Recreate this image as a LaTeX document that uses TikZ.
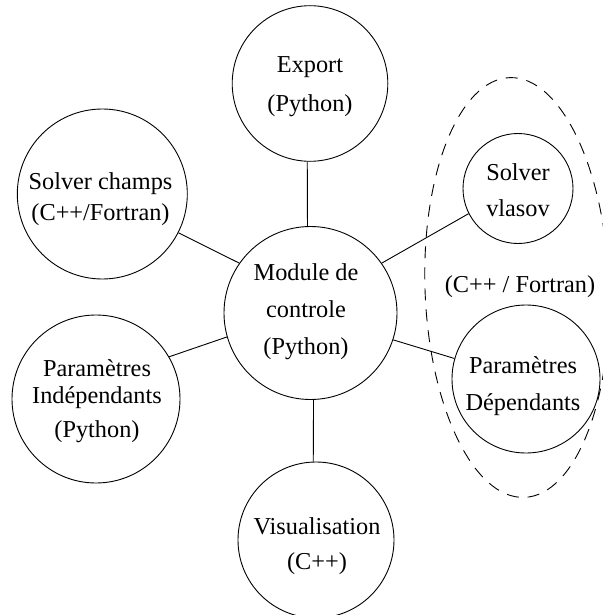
\documentclass[tikz,border=0pt]{standalone}
\usepackage{fontspec}
\setmainfont{Liberation Serif}
\begin{document}
\begin{tikzpicture}[x=1pt,y=-1pt,
  bubble/.style={draw, circle, inner sep=0pt, line width=0.9pt},
  txt/.style={align=center, inner sep=0pt, font=\fontsize{24.3}{29.2}\selectfont},
  link/.style={line width=0.9pt},
  group/.style={dashed, dash pattern=on 12pt off 9pt, line width=0.9pt}]
\useasboundingbox (0,0) rectangle (602,615);

% circles
\node[bubble, minimum size=155.6pt] (exp)    at (310,83.5) {};
\node[bubble, minimum size=170pt]   (champs) at (102.3,194) {};
\node[bubble, minimum size=173pt]   (mod)    at (310.5,313) {};
\node[bubble, minimum size=168pt]   (indep)  at (96,399) {};
\node[bubble, minimum size=110pt]   (vlasov) at (518,188.5) {};
\node[bubble, minimum size=148pt]   (dep)    at (526,379) {};
\node[bubble, minimum size=156pt]   (vis)    at (316,540) {};

% texts
\node[txt] (expT)    at (310,86.5)  {Export\\[10pt](Python)};
\node[txt] (champsT) at (100.5,199) {Solver champs\\[2pt](C++/Fortran)};
\node[txt] (modT)    at (306,311.5) {Module de\\[8pt]controle\\[8pt](Python)};
\node[txt] (indepT)  at (97,401)    {Paramètres\\[-2pt]Indépendants\\[5pt](Python)};
\node[txt] (vlasovT) at (518,190.5) {Solver\\[7pt]vlasov};
\node[txt] (depT)    at (523,386)   {Paramètres\\[8pt]Dépendants};
\node[txt] (visT)    at (317,546.5) {Visualisation\\[6pt](C++)};
\node[txt] (grpT)    at (520,286.5) {(C++ / Fortran)};

% connectors
\draw[link] (exp.268)    -- (mod.92);
\draw[link] (mod.272)    -- (vis.92);
\draw[link] (champs.333) -- (mod.145);
\draw[link] (indep.30.6) -- (mod.196.4);
\draw[link] (mod.35.7)   -- (vlasov.207);
\draw[link] (mod.342.9)  -- (dep.164.9);

% dashed group
\draw[group, rotate around={2:(517,287.5)}] (517,287.5) ellipse [x radius=92, y radius=210];
\end{tikzpicture}
\end{document}
